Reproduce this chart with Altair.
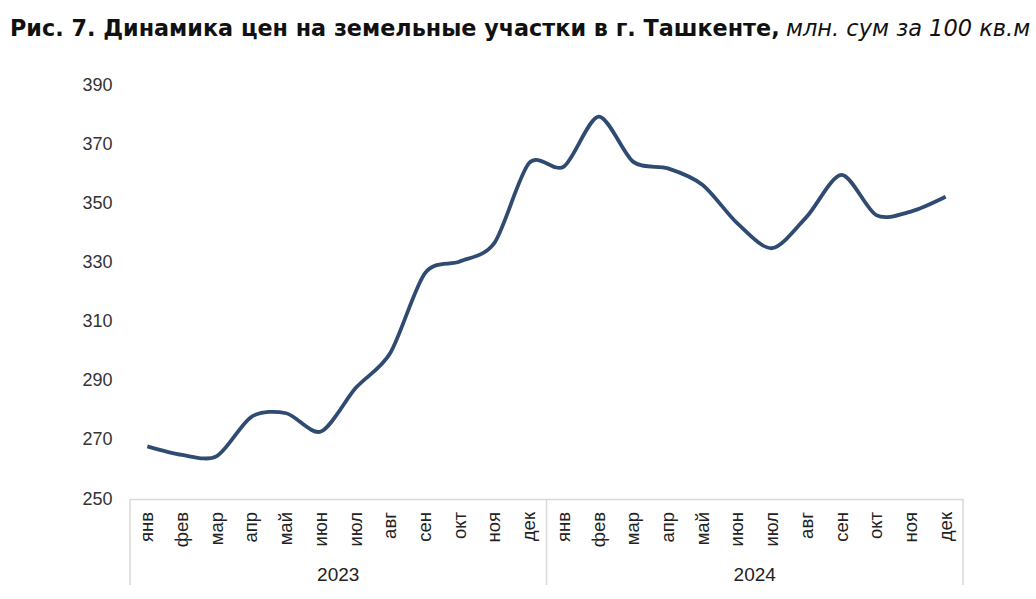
import altair as alt
import pandas as pd

months = ["янв", "фев", "мар", "апр", "май", "июн", "июл", "авг", "сен", "окт", "ноя", "дек"]
years = ["2023", "2024"]
values_2023 = [267.8, 264.9, 264.5, 277.8, 279.0, 272.8, 287.5, 299.4, 326.4, 330.3, 336.6, 363.6]
values_2024 = [362.4, 379.3, 364.0, 361.8, 356.2, 343.2, 334.8, 345.5, 359.6, 346.0, 347.2, 352.2]
y_ticks = [250, 270, 290, 310, 330, 350, 370, 390]
title_bold = "Рис. 7. Динамика цен на земельные участки в г. Ташкенте,"
title_italic = "млн. сум за 100 кв.м"

rows = []
for yi, (yr, vals) in enumerate(zip(years, [values_2023, values_2024])):
    for mi, (m, v) in enumerate(zip(months, vals)):
        rows.append({"idx": yi * 12 + mi, "month": m, "year": yr, "value": v})
df = pd.DataFrame(rows)
n = len(df)

x_scale = alt.Scale(domain=[-0.5, n - 0.5], nice=False, zero=False)
y_scale = alt.Scale(domain=[250, 390], nice=False, zero=False)

FONT = "Liberation Sans"

line = alt.Chart(df).mark_line(
    interpolate="cardinal", tension=0.15, color="#2F4B72", strokeWidth=3.8
).encode(
    x=alt.X("idx:Q", scale=x_scale, axis=alt.Axis(
        values=[-0.5, n - 0.5], labels=False, ticks=False, grid=False,
        domainColor="#d9d9d9", domainWidth=1.5, title=None)),
    y=alt.Y("value:Q", scale=y_scale, axis=alt.Axis(
        values=y_ticks, labelFontSize=18, labelColor="#333333", labelFont=FONT,
        labelPadding=18, labelOverlap=False, labelFlush=False,
        ticks=False, domain=False, grid=False, title=None)),
)

month_text = alt.Chart(df).mark_text(
    fontSize=18.5, font=FONT, color="#222222", angle=270,
    align="right", baseline="middle"
).encode(
    x=alt.X("idx:Q", scale=x_scale),
    y=alt.value(427),
    text="month:N",
)

sep_df = pd.DataFrame({"pos": [-0.5, 11.5, 23.5]})
seps = alt.Chart(sep_df).mark_rule(color="#d9d9d9", strokeWidth=1.5).encode(
    x=alt.X("pos:Q", scale=x_scale),
    y=alt.value(414), y2=alt.value(500),
)

year_df = pd.DataFrame({"year": years, "pos": [5.5, 17.5]})
year_text = alt.Chart(year_df).mark_text(
    fontSize=19, font=FONT, color="#222222", baseline="middle"
).encode(
    x=alt.X("pos:Q", scale=x_scale),
    y=alt.value(490),
    text="year:N",
)

title_df = pd.DataFrame({"b": [title_bold], "i": [title_italic]})
t_bold = alt.Chart(title_df).mark_text(
    fontSize=22.3, font="DejaVu Sans", fontWeight="bold", color="#111111",
    align="left", baseline="alphabetic"
).encode(x=alt.value(-120), y=alt.value(-49), text="b:N")
t_italic = alt.Chart(title_df).mark_text(
    fontSize=22.5, font="DejaVu Sans", fontStyle="italic", color="#111111",
    align="left", baseline="alphabetic"
).encode(x=alt.value(656), y=alt.value(-49), text="i:N")

chart = alt.layer(seps, line, month_text, year_text, t_bold, t_italic).properties(
    width=833, height=414,
    autosize=alt.AutoSizeParams(type="none"),
    padding={"left": 130, "top": 85, "right": 73, "bottom": 100},
).configure_view(stroke=None)

chart.save("out.html", embed_options={"renderer": "svg", "actions": False})
